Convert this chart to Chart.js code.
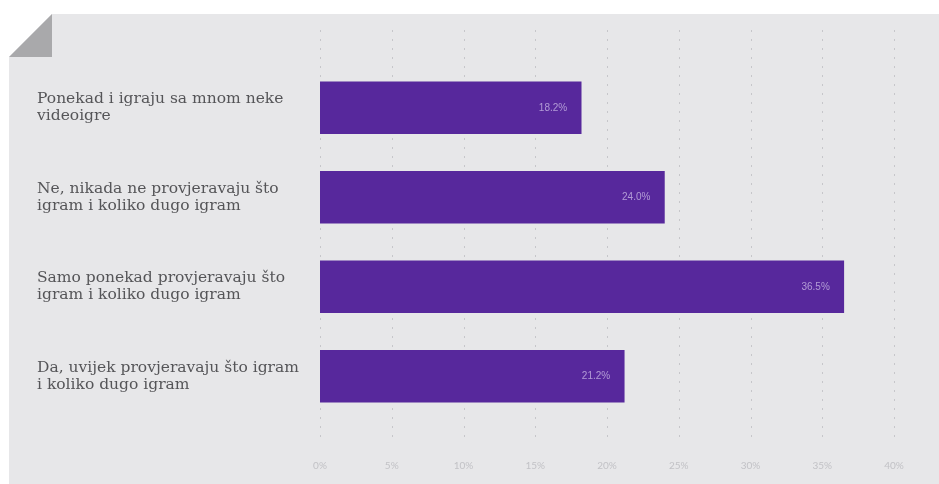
<!DOCTYPE html>
<html>
<head>
<meta charset="utf-8">
<script src="https://cdn.jsdelivr.net/npm/chart.js@4/dist/chart.umd.min.js"></script>
<style>
  html, body { margin: 0; padding: 0; background: #ffffff; }
  #wrap { position: relative; width: 939px; height: 484px; overflow: hidden; }
  #card {
    position: absolute; left: 9px; top: 14px; right: 0; bottom: 0;
    background: #e7e7e9;
    clip-path: polygon(43px 0, 100% 0, 100% 100%, 0 100%, 0 43px);
  }
  #fold {
    position: absolute; left: 9px; top: 14px; width: 43px; height: 43px;
    background: #a9a9ab;
    clip-path: polygon(100% 0, 100% 100%, 0 100%);
  }
  canvas { position: absolute; left: 0; top: 0; }
</style>
</head>
<body>
<div id="wrap">
  <div id="card"></div>
  <div id="fold"></div>
  <canvas id="chart" width="939" height="484"></canvas>
</div>
<script>
// ─── DATA ────────────────────────────────────────────────────────
const categories = [
  ['Ponekad i igraju sa mnom neke', 'videoigre'],
  ['Ne, nikada ne provjeravaju što', 'igram i koliko dugo igram'],
  ['Samo ponekad provjeravaju što', 'igram i koliko dugo igram'],
  ['Da, uvijek provjeravaju što igram', 'i koliko dugo igram']
];
const values = [18.2, 24.0, 36.5, 21.2];
const tickMin = 0;
const tickMax = 40;
const tickStep = 5;

const BAR_COLOR = '#57289c';
const GRID_COLOR = '#c6c6ca';

// ─── PLUGINS ─────────────────────────────────────────────────────
// dotted vertical grid that runs past the bar area
const dottedGrid = {
  id: 'dottedGrid',
  beforeDatasetsDraw(chart) {
    const { ctx, scales: { x } } = chart;
    ctx.save();
    ctx.strokeStyle = GRID_COLOR;
    ctx.lineWidth = 1;
    ctx.setLineDash([2, 7]);
    x.ticks.forEach(t => {
      const px = Math.round(x.getPixelForValue(t.value)) + 0.5;
      ctx.beginPath();
      ctx.moveTo(px, 30);
      ctx.lineTo(px, 440);
      ctx.stroke();
    });
    ctx.restore();
  }
};

// value text inside the bar end
const barValues = {
  id: 'barValues',
  afterDatasetsDraw(chart) {
    const { ctx } = chart;
    const meta = chart.getDatasetMeta(0);
    ctx.save();
    ctx.font = '10px "Liberation Sans Narrow", "Liberation Sans", sans-serif';
    ctx.fillStyle = 'rgba(200,182,228,0.8)';
    ctx.textAlign = 'right';
    ctx.textBaseline = 'middle';
    meta.data.forEach((bar, i) => {
      ctx.fillText(values[i].toFixed(1) + '%', bar.x - 14, bar.y);
    });
    ctx.restore();
  }
};

// ─── CHART ───────────────────────────────────────────────────────
new Chart(document.getElementById('chart'), {
  type: 'bar',
  data: {
    labels: categories,
    datasets: [{
      data: values,
      backgroundColor: BAR_COLOR,
      borderWidth: 0,
      barThickness: 52
    }]
  },
  options: {
    indexAxis: 'y',
    responsive: false,
    animation: false,
    layout: { padding: { left: 37, top: 63, right: 45, bottom: 0 } },
    plugins: { legend: { display: false }, tooltip: { enabled: false } },
    scales: {
      x: {
        min: tickMin, max: tickMax,
        grid: { display: false },
        border: { display: false },
        ticks: {
          stepSize: tickStep,
          padding: 31,
          color: '#c2c2c6',
          font: { family: 'Lato', size: 10 },
          callback: v => v + '%'
        },
        afterFit: s => { s.height = 63; }
      },
      y: {
        grid: { display: false },
        border: { display: false },
        ticks: {
          crossAlign: 'far',
          padding: 0,
          color: '#555558',
          font: { family: '"DejaVu Serif", serif', size: 15.5, lineHeight: 1.12 }
        },
        afterFit: s => { s.width = 283; }
      }
    }
  },
  plugins: [dottedGrid, barValues]
});
</script>
</body>
</html>
